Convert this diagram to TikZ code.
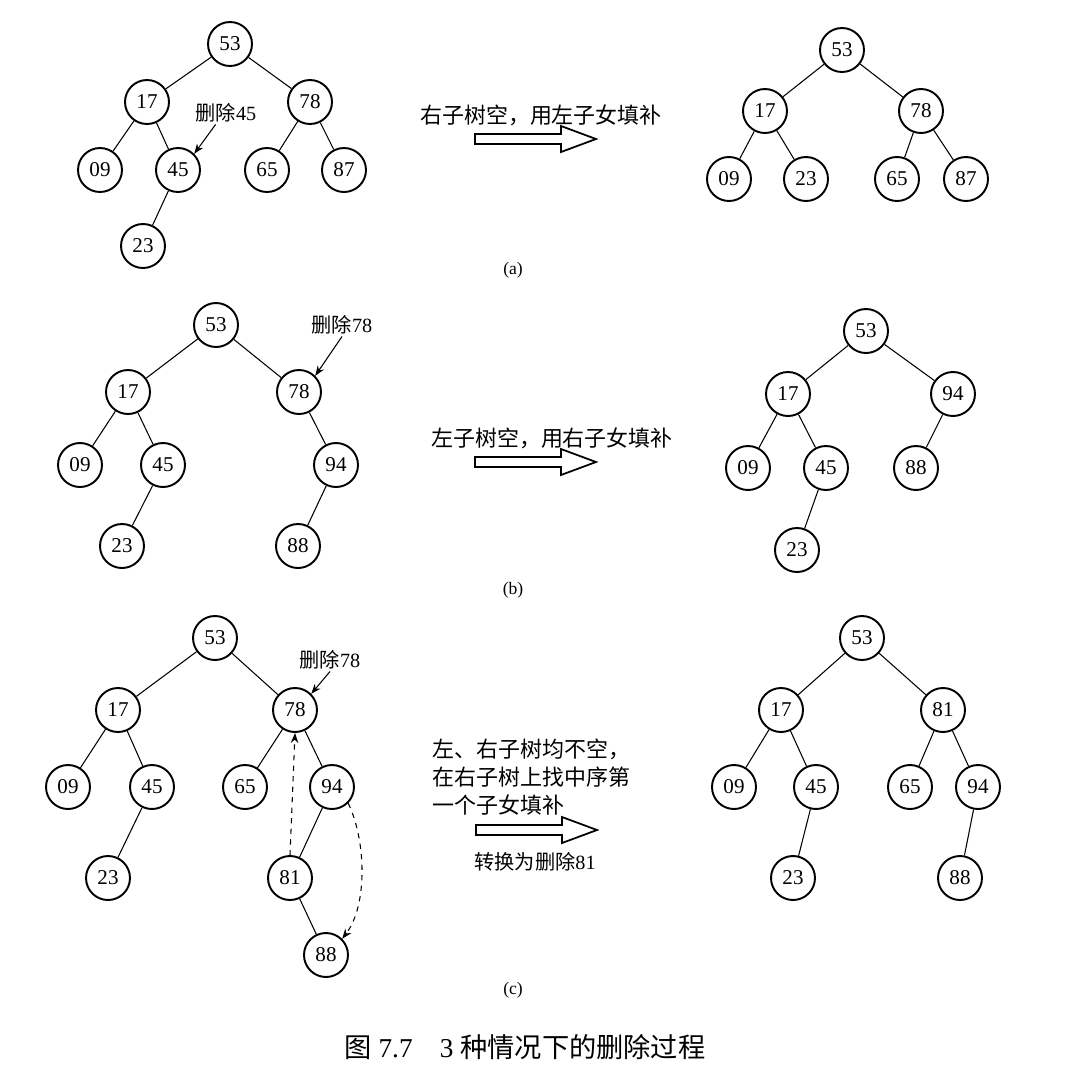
\documentclass[tikz,border=0pt]{standalone}
\usepackage{fontspec}
\setmainfont{Liberation Serif}
\newfontfamily\cjk{Noto Sans CJK SC}
\usetikzlibrary{arrows.meta}

% hollow transfer arrow, starting at its left end
\newcommand{\fatarrow}[1]{\draw[line width=1pt] #1 ++(0,5) -- ++(86,0) -- ++(0,8) -- ++(35,-13)
    -- ++(-35,-13) -- ++(0,8) -- ++(-86,0) -- cycle;}

\begin{document}
\begin{tikzpicture}[x=0.02cm, y=-0.02cm,
    nd/.style={circle, draw=black, line width=1.1pt, minimum size=0.88cm,
               inner sep=0pt, font=\fontsize{12}{14}\selectfont},
    note/.style={font=\fontsize{11.5}{14}\selectfont, inner sep=1pt},
    desc/.style={font=\fontsize{12.5}{16}\selectfont\cjk, inner sep=0pt},
    sub/.style={font=\fontsize{10}{12}\selectfont},
    ptr/.style={-{Stealth[length=2mm, width=1.5mm]}, line width=0.6pt},
    edge/.style={line width=0.6pt}
]
    \useasboundingbox (0,0) rectangle (1086,1073);

    % ---- (a) ----
    \node[nd] (a53) at (230,44) {53};
    \node[nd] (a17) at (147,102) {17};
    \node[nd] (a78) at (310,102) {78};
    \node[nd] (a09) at (100,170) {09};
    \node[nd] (a45) at (178,170) {45};
    \node[nd] (a65) at (267,170) {65};
    \node[nd] (a87) at (344,170) {87};
    \node[nd] (a23) at (143,246) {23};
    \foreach \p/\c in {a53/a17, a53/a78, a17/a09, a17/a45, a78/a65, a78/a87, a45/a23}
        \draw[edge] (\p) -- (\c);
    \node[note] (adel) at (226,113) {{\cjk 删除}45};
    \draw[ptr] (adel.south west) ++(22,0) -- (a45.north east);

    \node[desc] (atxt) at (541,115) {右子树空，用左子女填补};
    \fatarrow{(475,139)}

    \node[nd] (b53) at (842,50) {53};
    \node[nd] (b17) at (765,111) {17};
    \node[nd] (b78) at (921,111) {78};
    \node[nd] (b09) at (729,179) {09};
    \node[nd] (b23) at (806,179) {23};
    \node[nd] (b65) at (897,179) {65};
    \node[nd] (b87) at (966,179) {87};
    \foreach \p/\c in {b53/b17, b53/b78, b17/b09, b17/b23, b78/b65, b78/b87}
        \draw[edge] (\p) -- (\c);
    \node[sub] (alab) at (513,270) {(a)};

    % ---- (b) ----
    \node[nd] (c53) at (216,325) {53};
    \node[nd] (c17) at (128,392) {17};
    \node[nd] (c78) at (299,392) {78};
    \node[nd] (c09) at (80,465) {09};
    \node[nd] (c45) at (163,465) {45};
    \node[nd] (c94) at (336,465) {94};
    \node[nd] (c23) at (122,546) {23};
    \node[nd] (c88) at (298,546) {88};
    \foreach \p/\c in {c53/c17, c53/c78, c17/c09, c17/c45, c78/c94, c45/c23, c94/c88}
        \draw[edge] (\p) -- (\c);
    \node[note] (cdel) at (342,325) {{\cjk 删除}78};
    \draw[ptr] (cdel.south) -- (c78.north east);

    \node[desc] (btxt) at (552,438) {左子树空，用右子女填补};
    \fatarrow{(475,462)}

    \node[nd] (d53) at (866,331) {53};
    \node[nd] (d17) at (788,394) {17};
    \node[nd] (d94) at (953,394) {94};
    \node[nd] (d09) at (748,468) {09};
    \node[nd] (d45) at (826,468) {45};
    \node[nd] (d88) at (916,468) {88};
    \node[nd] (d23) at (797,550) {23};
    \foreach \p/\c in {d53/d17, d53/d94, d17/d09, d17/d45, d94/d88, d45/d23}
        \draw[edge] (\p) -- (\c);
    \node[sub] (blab) at (513,590) {(b)};

    % ---- (c) ----
    \node[nd] (e53) at (215,638) {53};
    \node[nd] (e17) at (118,710) {17};
    \node[nd] (e78) at (295,710) {78};
    \node[nd] (e09) at (68,787) {09};
    \node[nd] (e45) at (152,787) {45};
    \node[nd] (e65) at (245,787) {65};
    \node[nd] (e94) at (332,787) {94};
    \node[nd] (e23) at (108,878) {23};
    \node[nd] (e81) at (290,878) {81};
    \node[nd] (e88) at (326,955) {88};
    \foreach \p/\c in {e53/e17, e53/e78, e17/e09, e17/e45, e78/e65, e78/e94,
                       e45/e23, e94/e81, e81/e88}
        \draw[edge] (\p) -- (\c);
    \node[note] (edel) at (330,660) {{\cjk 删除}78};
    \draw[ptr] (edel.south) -- (e78.north east);
    \draw[ptr, dashed] (e81.north) -- (e78.south);
    \draw[ptr, dashed] (e94.south east) .. controls (366,840) and (368,905) .. (e88.north east);

    \node[desc, anchor=west, align=left] (ctxt) at (432,777)
        {左、右子树均不空，\\在右子树上找中序第\\一个子女填补};
    \fatarrow{(476,830)}
    \node[note] (cconv) at (535,862) {{\cjk 转换为删除}81};

    \node[nd] (f53) at (862,638) {53};
    \node[nd] (f17) at (781,710) {17};
    \node[nd] (f81) at (943,710) {81};
    \node[nd] (f09) at (734,787) {09};
    \node[nd] (f45) at (816,787) {45};
    \node[nd] (f65) at (910,787) {65};
    \node[nd] (f94) at (978,787) {94};
    \node[nd] (f23) at (793,878) {23};
    \node[nd] (f88) at (960,878) {88};
    \foreach \p/\c in {f53/f17, f53/f81, f17/f09, f17/f45, f81/f65, f81/f94,
                       f45/f23, f94/f88}
        \draw[edge] (\p) -- (\c);
    \node[sub] (clab) at (513,990) {(c)};

    \node[font=\fontsize{15.5}{18}\selectfont] (cap) at (525,1047)
        {{\cjk 图} 7.7\quad 3 {\cjk 种情况下的删除过程}};
\end{tikzpicture}
\end{document}
